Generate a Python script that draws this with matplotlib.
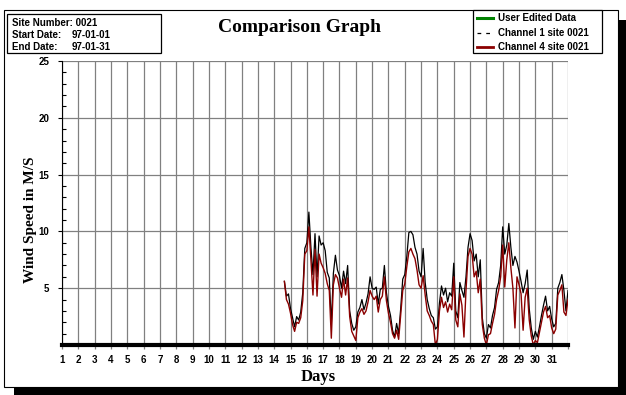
import matplotlib
matplotlib.use('Agg')
import matplotlib.pyplot as plt
import matplotlib.patches as mpatches
from matplotlib.lines import Line2D
import numpy as np

# ---- data: 3-hourly wind speed (m/s), starting day 14 at 15:00 ----
start_day = 14.625
step_hours = 3

channel1 = [
    5.6, 4.3, 4.5,
    3.2, 2.4, 1.6, 2.5, 2.2, 2.9, 4.6, 8.5,
    9.0, 11.7, 8.6, 6.2, 9.8, 6.0, 9.6, 8.8,
    9.0, 8.3, 6.4, 5.9, 1.8, 6.3, 7.9, 6.6,
    6.1, 5.0, 6.5, 5.4, 7.0, 3.0, 1.9, 1.3,
    1.6, 2.9, 3.3, 4.0, 3.1, 3.7, 4.5, 6.0,
    5.0, 4.9, 5.1, 3.6, 4.9, 5.0, 7.0, 4.6,
    3.4, 2.6, 1.3, 0.7, 1.9, 1.0, 3.2, 5.8,
    6.2, 7.8, 9.9, 10.0, 9.7, 8.6, 8.0, 6.5,
    6.0, 8.5, 5.5, 4.0, 3.2, 2.6, 2.4, 1.4,
    1.6, 3.7, 5.2, 4.4, 5.0, 3.8, 4.6, 4.3,
    7.2, 3.0, 2.4, 5.5, 4.8, 4.2, 6.0, 8.6,
    9.8, 9.2, 7.4, 8.0, 6.0, 7.5, 2.4, 1.0,
    0.6, 1.8, 1.5, 2.6, 3.3, 4.9, 5.5, 7.0,
    10.4, 8.0, 8.8, 10.7, 8.6, 7.0, 7.8, 7.3,
    6.5, 5.6, 4.6, 5.4, 6.6, 3.2, 1.5, 0.5,
    1.2, 0.7, 1.6, 2.6, 3.5, 4.3, 3.0, 3.4,
    2.3, 1.6, 1.9, 5.0, 5.5, 6.2, 4.8, 3.0,
    4.8,
]

channel4 = [
    5.6, 4.0, 3.6,
    2.8, 1.8, 1.2, 2.0, 1.9, 2.4, 3.9, 8.0,
    8.3, 10.4, 7.5, 4.4, 8.4, 4.3, 8.0, 7.2,
    6.8, 6.3, 5.4, 4.8, 0.6, 5.3, 6.2, 5.9,
    5.0, 4.2, 5.8, 4.4, 5.9, 2.5, 1.2, 0.8,
    0.4, 2.4, 2.9, 3.2, 2.7, 3.0, 3.8, 4.8,
    4.3, 4.0, 4.3, 2.9, 4.0, 4.3, 6.0, 3.9,
    2.8, 2.0, 1.0, 0.6, 1.3, 0.5, 2.6, 4.8,
    5.4, 6.9, 8.2, 8.5, 8.0, 7.6, 6.6, 5.3,
    5.0, 6.1, 4.4, 3.0, 2.6, 2.1, 1.8, 0.0,
    0.5, 3.0, 4.2, 3.3, 3.8, 2.9, 3.6, 3.1,
    6.0, 2.2, 1.6, 4.5, 3.5, 0.7, 4.8, 7.8,
    8.5, 8.0, 6.0, 6.5, 4.6, 5.8, 1.8, 0.6,
    0.0, 0.9, 1.0, 1.9, 2.7, 4.0, 4.8, 6.0,
    8.8, 5.1, 7.5, 9.0, 6.8, 5.0, 1.5, 6.0,
    5.3, 4.5, 1.3, 4.2, 5.0, 2.2, 0.8, 0.0,
    0.4, 0.2, 1.1, 2.0, 2.9, 3.4, 2.4, 2.6,
    1.5, 1.0, 1.4, 4.4, 4.8, 5.3, 2.9, 2.6,
    4.0,
]

day_ticks = list(range(1, 33))
day_labels = [str(d) for d in range(1, 32)] + ['']
y_major = [5, 10, 15, 20, 25]

info_lines = [('Site Number: 0021', ''), ('Start Date:', '97-01-01'), ('End Date:', '97-01-31')]
legend_labels = ['User Edited Data', 'Channel 1 site 0021', 'Channel 4 site 0021']

W, H = 626, 395
fig = plt.figure(figsize=(W / 100, H / 100), dpi=100)
fig.patch.set_facecolor('white')


def fx(px):
    return px / W


def fy(py):
    return 1 - py / H


# shadow + white panel
fig.add_artist(mpatches.Rectangle((fx(14), 0), fx(626 - 14), (395 - 20) / H,
                                  transform=fig.transFigure, facecolor='black',
                                  edgecolor='none', zorder=-2))
fig.add_artist(mpatches.Rectangle((fx(4), fy(387)), fx(618 - 4), (387 - 10) / H,
                                  transform=fig.transFigure, facecolor='white',
                                  edgecolor='black', linewidth=0.8, zorder=-1))

ax = fig.add_axes([fx(62), fy(345), fx(568 - 62), (345 - 61) / H])
ax.set_zorder(2)
ax.set_facecolor('none')

t = start_day + np.arange(len(channel1)) * step_hours / 24.0
ax.plot(t, channel1, color='black', linewidth=0.9, zorder=3)
ax.plot(t, channel4, color='#8B0000', linewidth=1.0, zorder=4)

ax.set_xlim(1, 32)
ax.set_ylim(0, 25)
ax.set_xticks(day_ticks)
ax.set_xticklabels(day_labels)
ax.set_yticks(y_major)
ax.set_yticks(range(0, 26), minor=True)
ax.grid(True, which='major', color='#808080', linewidth=0.9)
ax.set_axisbelow(True)

for s in ['top', 'right']:
    ax.spines[s].set_visible(False)
ax.spines['left'].set_linewidth(0.8)
ax.spines['bottom'].set_linewidth(3.0)
ax.spines['bottom'].set_zorder(5)

ax.tick_params(axis='x', which='major', direction='out', length=3, color='#808080',
               width=0.9, pad=4, labelsize=7)
ax.tick_params(axis='y', which='major', direction='out', length=3, color='black',
               width=0.8, pad=6, labelsize=7)
ax.tick_params(axis='y', which='minor', direction='in', length=3, color='black', width=0.8)
ax.tick_params(axis='x', which='minor', length=0)
for lab in ax.get_xticklabels() + ax.get_yticklabels():
    lab.set_fontweight('bold')
    lab.set_family('Liberation Sans')

serif = 'Liberation Serif'
ax.set_ylabel('Wind Speed in M/S', family=serif, fontweight='bold', fontsize=11)
ax.yaxis.set_label_coords(-0.05, 0.44)
ax.set_xlabel('Days', family=serif, fontweight='bold', fontsize=12)
ax.xaxis.set_label_coords(0.506, -0.085)
fig.text(fx(300), fy(28), 'Comparison Graph', family=serif, fontweight='bold',
         fontsize=14, ha='center', va='center')

# info box
fig.add_artist(mpatches.Rectangle((fx(7), fy(53)), fx(161 - 7), (53 - 14) / H,
                                  transform=fig.transFigure, facecolor='white',
                                  edgecolor='black', linewidth=0.9))
for i, (lab, val) in enumerate(info_lines):
    yy = fy(22.5 + i * 12.3)
    fig.text(fx(12), yy, lab, family='Liberation Sans', fontweight='bold', fontsize=7, va='center')
    if val:
        fig.text(fx(72), yy, val, family='Liberation Sans', fontweight='bold', fontsize=7, va='center')

# legend box
fig.add_artist(mpatches.Rectangle((fx(473), fy(53)), fx(602 - 473), (53 - 10) / H,
                                  transform=fig.transFigure, facecolor='white',
                                  edgecolor='black', linewidth=0.9))
styles = [dict(color='#008000', linewidth=2.2, linestyle='-'),
          dict(color='black', linewidth=0.9, linestyle=(0, (3, 4))),
          dict(color='#8B0000', linewidth=2.0, linestyle='-')]
for i, (lab, st) in enumerate(zip(legend_labels, styles)):
    yy = fy(18 + i * 14.5)
    fig.add_artist(Line2D([fx(477), fx(493)], [yy, yy], transform=fig.transFigure, **st))
    fig.text(fx(498), yy, lab, family='Liberation Sans', fontweight='bold', fontsize=7, va='center')

fig.savefig('out.png', dpi=100, facecolor='white')
plt.close()
